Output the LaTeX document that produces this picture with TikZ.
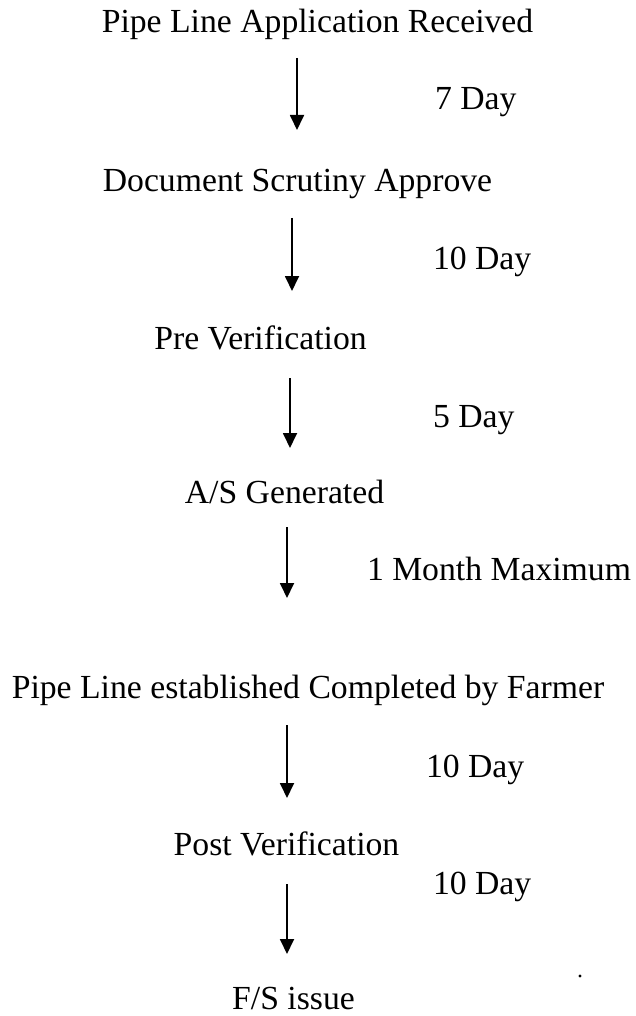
\documentclass[tikz,border=0pt]{standalone}
\usepackage{fontspec}
\setmainfont{Liberation Serif}
\usetikzlibrary{arrows.meta}
\tikzset{
  lbl/.style={inner sep=0pt, outer sep=0pt, font=\fontsize{33.7}{40}\selectfont},
  stage/.style={lbl, anchor=base},
  dur/.style={lbl, anchor=base west},
  flow/.style={line width=1.8pt, -{Triangle[length=15pt,width=14pt]}}
}
\begin{document}
\begin{tikzpicture}[x=1pt,y=-1pt]
\useasboundingbox (0,0) rectangle (635,1016);
% stages
\node[stage] (s1) at (317.5,33) {Pipe Line Application Received};
\node[stage] (s2) at (297.5,192) {Document Scrutiny Approve};
\node[stage] (s3) at (260.5,349) {Pre Verification};
\node[stage] (s4) at (284.5,503) {A/S Generated};
\node[stage] (s5) at (308,698) {Pipe Line established Completed by Farmer};
\node[stage] (s6) at (286.5,855) {Post Verification};
\node[stage] (s7) at (293.5,1009) {F/S issue};
% durations
\node[dur] (d1) at (435,110) {7 Day};
\node[dur] (d2) at (433,269) {10 Day};
\node[dur] (d3) at (433,427) {5 Day};
\node[dur] (d4) at (367,580) {1 Month Maximum};
\node[dur] (d5) at (426,777) {10 Day};
\node[dur] (d6) at (433,894) {10 Day};
% arrow end points
\coordinate (a1s) at (297,58);  \coordinate (a1e) at (297,130);
\coordinate (a2s) at (292,218); \coordinate (a2e) at (292,291);
\coordinate (a3s) at (290,378); \coordinate (a3e) at (290,448);
\coordinate (a4s) at (287,527); \coordinate (a4e) at (287,598);
\coordinate (a5s) at (287,725); \coordinate (a5e) at (287,798);
\coordinate (a6s) at (287,884); \coordinate (a6e) at (287,954);
\draw[flow] (a1s) -- (a1e);
\draw[flow] (a2s) -- (a2e);
\draw[flow] (a3s) -- (a3e);
\draw[flow] (a4s) -- (a4e);
\draw[flow] (a5s) -- (a5e);
\draw[flow] (a6s) -- (a6e);
% speck
\fill (580,976) circle (1.6);
\end{tikzpicture}
\end{document}
